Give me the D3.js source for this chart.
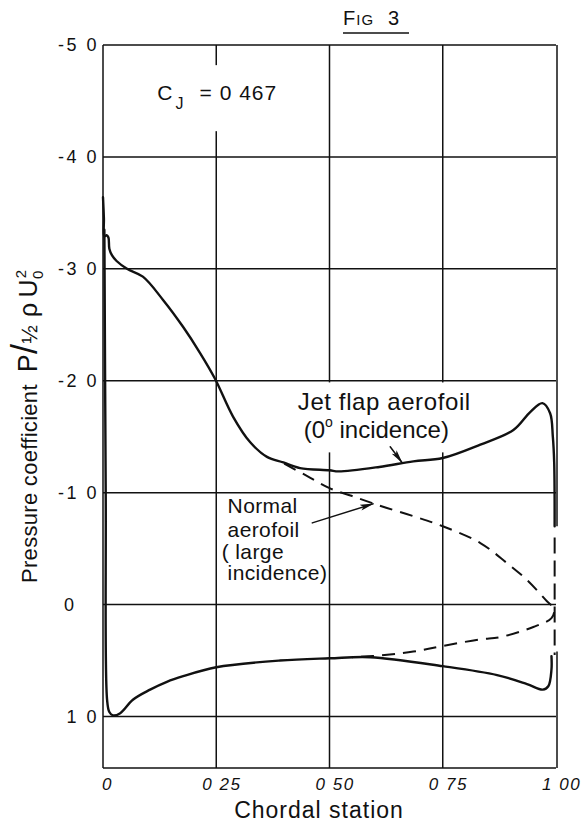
<!DOCTYPE html>
<html>
<head>
<meta charset="utf-8">
<script src="https://cdn.jsdelivr.net/npm/d3@7"></script>
<style>
  html, body { margin: 0; padding: 0; background: #fff; }
  svg { display: block; font-family: "Liberation Sans", Arial, sans-serif; }
  .tick-label { white-space: pre; }
</style>
</head>
<body>
<div id="chart"></div>
<script>
const W = 583;
const H = 823;
const margin = {top: 45, right: 27, bottom: 55, left: 103};

// ── Axis ticks (decimal points were lost in the scan) ───────────────────────
const xTicks = [0, 0.25, 0.5, 0.75, 1];
const xTickLabels = ["0", "0 25", "0 50", "0 75", "1 00"];
const yTicks = [-5, -4, -3, -2, -1, 0, 1];
const yTickLabels = ["-5 0", "-4 0", "-3 0", "-2 0", "-1 0", "0   ", "1 0"];

// ── Jet flap aerofoil, 0° incidence (solid) ─────────────────────────────────
const jetUpper = [
  [0.0, -3.64], [0.002, -3.45], [0.003, -3.29], [0.008, -3.3], [0.012, -3.28],
  [0.014, -3.18], [0.02, -3.12], [0.03, -3.07], [0.053, -3.0], [0.088, -2.93],
  [0.133, -2.72], [0.177, -2.48], [0.214, -2.25], [0.247, -2.02], [0.287, -1.68],
  [0.325, -1.45], [0.362, -1.32], [0.398, -1.27], [0.435, -1.22], [0.5, -1.2],
  [0.52, -1.19], [0.61, -1.23], [0.685, -1.28], [0.75, -1.31], [0.833, -1.43],
  [0.906, -1.56], [0.943, -1.72], [0.97, -1.8], [0.987, -1.71], [0.993, -1.5],
  [0.996, -1.27], [0.997, -0.7],
];
const jetLower = [
  [0.003, -3.35], [0.006, -1.0], [0.009, 0.85], [0.014, 0.96], [0.022, 0.99],
  [0.038, 0.97], [0.066, 0.85], [0.104, 0.76], [0.141, 0.69], [0.177, 0.64],
  [0.25, 0.56], [0.39, 0.5], [0.5, 0.48], [0.59, 0.47], [0.75, 0.55],
  [0.87, 0.63], [0.936, 0.71], [0.971, 0.76], [0.983, 0.73], [0.99, 0.58],
  [0.99, 0.46],
];
const jetTrailing = [[0.997, -0.6], [0.997, 0.45]];

// ── Normal aerofoil, large incidence (dashed) ───────────────────────────────
const normalAerofoil = [
  [0.40, -1.26], [0.45, -1.15], [0.5, -1.04], [0.55, -0.97], [0.61, -0.885],
  [0.685, -0.79], [0.75, -0.7], [0.833, -0.55], [0.892, -0.37], [0.936, -0.22],
  [0.98, -0.03], [0.996, 0.04], [0.99, 0.12], [0.95, 0.2], [0.877, 0.29],
  [0.833, 0.31], [0.75, 0.37], [0.685, 0.42], [0.596, 0.46], [0.55, 0.47],
];

// ── Annotation arrows [from, to] in data units ──────────────────────────────
const jetArrow = [[0.634, -1.41], [0.66, -1.27]];
const normalArrow = [[0.462, -0.73], [0.596, -0.9]];

const ink = "#111";

const x = d3.scaleLinear().domain([0, 1]).range([margin.left, W - margin.right]);
const y = d3.scaleLinear().domain([-5, 1.46]).range([margin.top, H - margin.bottom]);

const svg = d3.select("#chart").append("svg")
  .attr("width", W)
  .attr("height", H)
  .attr("viewBox", `0 0 ${W} ${H}`);

svg.append("defs").append("marker")
  .attr("id", "arrow")
  .attr("markerUnits", "userSpaceOnUse")
  .attr("markerWidth", 14)
  .attr("markerHeight", 8)
  .attr("refX", 13)
  .attr("refY", 4)
  .attr("orient", "auto")
  .append("path")
  .attr("d", "M0,1 L14,4 L0,7 L3,4 Z")
  .attr("fill", ink);

// ── Grid and frame ──────────────────────────────────────────────────────────
const grid = svg.append("g").attr("stroke", ink).attr("stroke-width", 1.5);

grid.selectAll("line.h").data(yTicks).join("line")
  .attr("class", "h")
  .attr("x1", x(0)).attr("x2", x(1))
  .attr("y1", d => y(d)).attr("y2", d => y(d));

grid.selectAll("line.v").data(xTicks.slice(0, -1)).join("line")
  .attr("class", "v")
  .attr("x1", d => x(d)).attr("x2", d => x(d))
  .attr("y1", y(-5)).attr("y2", y(1.46));

// bottom edge
grid.append("line")
  .attr("x1", x(0)).attr("x2", x(1))
  .attr("y1", y(1.46)).attr("y2", y(1.46));

// right edge, broken where the trailing edge is drawn
grid.append("line")
  .attr("x1", x(1) + 1).attr("x2", x(1) + 1)
  .attr("y1", y(-5)).attr("y2", y(-0.7));
grid.append("line")
  .attr("x1", x(1) + 1).attr("x2", x(1) + 1)
  .attr("y1", y(0.42)).attr("y2", y(1.46));

// ── Label backgrounds (the grid is broken behind the lettering) ─────────────
svg.append("rect")
  .attr("x", x(0.1)).attr("y", y(-4.82))
  .attr("width", x(0.39) - x(0.1)).attr("height", y(-4.23) - y(-4.82))
  .attr("fill", "#fff");
svg.append("rect")
  .attr("x", x(0.425)).attr("y", y(-1.985))
  .attr("width", x(0.83) - x(0.425)).attr("height", y(-1.36) - y(-1.985))
  .attr("fill", "#fff");

// ── Tick labels ─────────────────────────────────────────────────────────────
svg.append("g")
  .attr("font-size", 18)
  .attr("letter-spacing", 2.5)
  .attr("fill", ink)
  .selectAll("text").data(yTicks).join("text")
  .attr("class", "tick-label")
  .attr("x", x(0) - 4)
  .attr("y", d => y(d))
  .attr("dy", "0.35em")
  .attr("text-anchor", "end")
  .text((d, i) => yTickLabels[i]);

svg.append("g")
  .attr("font-size", 17)
  .attr("letter-spacing", 1.5)
  .attr("font-style", "italic")
  .attr("fill", ink)
  .selectAll("text").data(xTicks).join("text")
  .attr("class", "tick-label")
  .attr("x", (d, i) => x(d) + (i === 0 ? -1 : -14))
  .attr("y", y(1.46) + 22)
  .text((d, i) => xTickLabels[i]);

// ── Curves ──────────────────────────────────────────────────────────────────
const line = d3.line()
  .x(d => x(d[0]))
  .y(d => y(d[1]))
  .curve(d3.curveCatmullRom.alpha(0.5));

const curves = svg.append("g").attr("fill", "none").attr("stroke", ink)
  .attr("stroke-linejoin", "round").attr("stroke-linecap", "round");

curves.append("path").datum(jetUpper).attr("d", line).attr("stroke-width", 2.4);
curves.append("path").datum(jetLower).attr("d", line).attr("stroke-width", 2.4);
curves.append("path").datum(jetTrailing).attr("d", line)
  .attr("stroke-width", 2).attr("stroke-dasharray", "16 7").attr("stroke-linecap", "butt");
curves.append("path").datum(normalAerofoil).attr("d", line)
  .attr("stroke-width", 2).attr("stroke-dasharray", "13 8").attr("stroke-linecap", "butt");

const arrowLine = d3.line().x(d => x(d[0])).y(d => y(d[1]));
curves.append("path").datum(jetArrow).attr("d", arrowLine)
  .attr("stroke-width", 1.5).attr("marker-end", "url(#arrow)");
curves.append("path").datum(normalArrow).attr("d", arrowLine)
  .attr("stroke-width", 1.5).attr("marker-end", "url(#arrow)");

// ── Annotations ─────────────────────────────────────────────────────────────
const notes = svg.append("g").attr("fill", ink);

notes.append("text").attr("x", x(0.43)).attr("y", y(-1.74))
  .attr("font-size", 24).attr("letter-spacing", 0.6).text("Jet flap aerofoil");
const inc = notes.append("text").attr("x", x(0.443)).attr("y", y(-1.49)).attr("font-size", 24);
inc.append("tspan").text("(0");
inc.append("tspan").attr("font-size", 14).attr("dy", -11).text("o");
inc.append("tspan").attr("dy", 11).text(" incidence)");

const normal = notes.append("g").attr("font-size", 21).attr("letter-spacing", 0.4);
normal.append("text").attr("x", x(0.275)).attr("y", y(-0.82)).text("Normal");
normal.append("text").attr("x", x(0.275)).attr("y", y(-0.6)).text("aerofoil");
normal.append("text").attr("x", x(0.262)).attr("y", y(-0.41)).text("( large");
normal.append("text").attr("x", x(0.275)).attr("y", y(-0.22)).text("incidence)");

const cj = notes.append("text").attr("x", x(0.12)).attr("y", y(-4.51)).attr("font-size", 21);
cj.append("tspan").text("C");
cj.append("tspan").attr("font-size", 16).attr("dy", 9).attr("dx", 3).text("J");
cj.append("tspan").attr("dy", -9).attr("dx", 16).attr("letter-spacing", 1).text("= 0 467");

// ── Title ───────────────────────────────────────────────────────────────────
const title = svg.append("text")
  .attr("x", 343).attr("y", 25)
  .attr("fill", ink).attr("font-size", 20).attr("letter-spacing", 1);
title.append("tspan").text("F");
title.append("tspan").attr("font-size", 15).text("IG");
title.append("tspan").attr("dx", 14).text("3");
svg.append("line")
  .attr("x1", 343).attr("x2", 409).attr("y1", 33).attr("y2", 33)
  .attr("stroke", ink).attr("stroke-width", 1.5);

// ── Axis titles ─────────────────────────────────────────────────────────────
svg.append("text")
  .attr("x", 319)
  .attr("y", H - 5)
  .attr("text-anchor", "middle")
  .attr("font-size", 23)
  .attr("letter-spacing", 1)
  .attr("fill", ink)
  .text("Chordal station");

const yTitle = svg.append("text")
  .attr("transform", "translate(37, 583) rotate(-90)")
  .attr("font-size", 22)
  .attr("letter-spacing", 0.3)
  .attr("fill", ink);
yTitle.append("tspan").text("Pressure coefficient");
yTitle.append("tspan").attr("dx", 12).attr("font-size", 27).text("P");
yTitle.append("tspan").attr("font-size", 36).text("/");
yTitle.append("tspan").attr("font-size", 22).text("½");
yTitle.append("tspan").attr("dx", 8).attr("font-size", 25).text("ρ");
yTitle.append("tspan").attr("dx", 5).attr("font-size", 25).text("U");
yTitle.append("tspan").attr("font-size", 15).attr("dy", 6).text("0");
yTitle.append("tspan").attr("font-size", 15).attr("dy", -17).attr("dx", -8).text("2");
</script>
</body>
</html>
